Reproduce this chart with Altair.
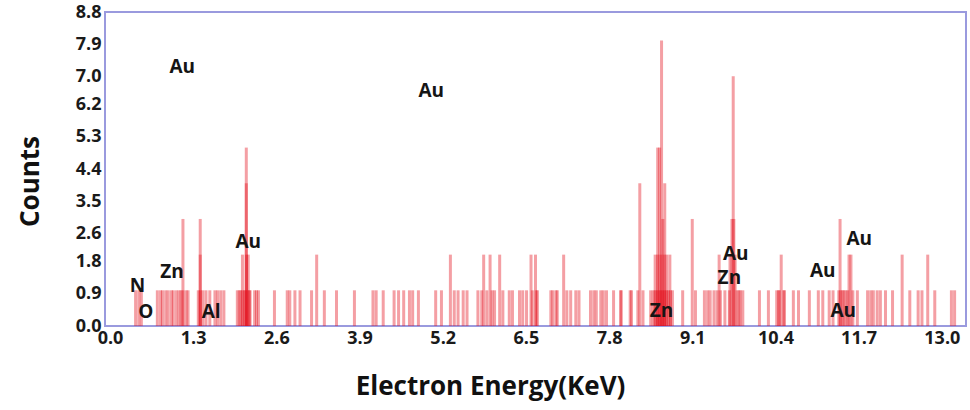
import altair as alt
import pandas as pd

# ---- spectrum lines, grouped by their height in counts (energies in keV) ----
counts_1_kev = [0.40, 0.45, 0.49, 0.74, 0.79, 0.82, 0.87, 0.91, 0.96, 0.99, 1.04, 1.08, 1.11, 1.14,
                1.19, 1.22, 1.38, 1.41, 1.45, 1.50, 1.56, 1.64, 1.68, 1.73, 1.78, 1.99, 2.02, 2.04,
                2.07, 2.10, 2.12, 2.15, 2.18, 2.19, 2.26, 2.29, 2.32, 2.57, 2.77, 2.81, 2.89, 2.97,
                3.15, 3.35, 3.54, 3.82, 4.11, 4.16, 4.27, 4.44, 4.51, 4.59, 4.68, 4.73, 4.82, 5.09,
                5.18, 5.38, 5.44, 5.52, 5.58, 5.75, 5.81, 5.89, 5.97, 6.01, 6.14, 6.24, 6.29, 6.40,
                6.45, 6.51, 6.60, 6.66, 6.68, 6.89, 6.92, 6.97, 6.99, 7.14, 7.20, 7.28, 7.33, 7.51,
                7.56, 7.60, 7.67, 7.71, 7.76, 7.87, 7.98, 7.99, 8.13, 8.15, 8.25, 8.33, 8.45, 8.49,
                8.52, 8.55, 8.58, 8.61, 8.64, 8.67, 8.70, 8.73, 8.76, 8.79, 8.95, 9.15, 9.29, 9.34,
                9.38, 9.44, 9.49, 9.54, 9.61, 9.68, 9.80, 9.83, 9.85, 9.89, 10.15, 10.29, 10.42,
                10.45, 10.46, 10.53, 10.54, 10.68, 10.76, 10.93, 11.07, 11.14, 11.24, 11.30, 11.39,
                11.42, 11.45, 11.47, 11.50, 11.53, 11.61, 11.68, 11.84, 11.89, 11.93, 11.99, 12.04,
                12.12, 12.23, 12.50, 12.63, 12.69, 12.89, 13.15, 13.20]
counts_2_kev = [1.41, 2.07, 2.13, 2.16, 3.23, 5.32, 5.84, 5.94, 6.09, 6.58, 6.65, 7.09, 8.52, 8.56,
                8.61, 8.66, 8.70, 8.75, 9.52, 9.69, 9.77, 10.49, 11.55, 11.58, 12.38, 12.78]
counts_3_kev = [1.14, 1.41, 8.64, 9.10, 9.72, 9.75, 11.41]
counts_4_kev = [2.13, 8.28, 8.67]
counts_5_kev = [2.13, 8.56, 8.59]
counts_7_kev = [9.74]
counts_8_kev = [8.62]

# ---- element labels ----
label_text = ["Au", "Au", "Au", "Zn", "N", "O", "Al", "Zn", "Au", "Zn", "Au", "Au", "Au"]
label_kev = [1.13, 5.02, 2.16, 0.97, 0.43, 0.56, 1.58, 8.62, 9.78, 9.68, 11.14, 11.71, 11.46]
label_count = [7.26, 6.59, 2.35, 1.51, 1.12, 0.39, 0.39, 0.42, 2.02, 1.35, 1.54, 2.44, 0.42]

# ---- axis ticks ----
x_ticks = [0.0, 1.3, 2.6, 3.9, 5.2, 6.5, 7.8, 9.1, 10.4, 11.7, 13.0]
y_ticks = [0.0, 0.9, 1.8, 2.6, 3.5, 4.4, 5.3, 6.2, 7.0, 7.9, 8.8]

rows = []
for height, energies in [(1, counts_1_kev), (2, counts_2_kev), (3, counts_3_kev), (4, counts_4_kev),
                         (5, counts_5_kev), (7, counts_7_kev), (8, counts_8_kev)]:
    for e in energies:
        rows.append({"energy": e, "counts": height})
bars_df = pd.DataFrame(rows)
labels_df = pd.DataFrame({"label": label_text, "energy": label_kev, "counts": label_count})

FONT = "Open Sans"
x_scale = alt.Scale(domain=[0, 13.3], nice=False, zero=False)
y_scale = alt.Scale(domain=[0, 8.8], nice=False)

x_axis = alt.Axis(values=x_ticks, format=".1f", title="Electron Energy(KeV)",
                  titleX=385, titleY=60, titleAlign="center", titleBaseline="middle",
                  labelPadding=3, labelOverlap=False)
y_axis = alt.Axis(values=y_ticks, format=".1f", title="Counts",
                  titleX=-75, titleY=169, titleAngle=270, titleAlign="center",
                  titleBaseline="middle", labelPadding=4, labelOverlap=False)

bars = alt.Chart(bars_df).mark_bar(size=3, color="#e3101c", opacity=0.4).encode(
    x=alt.X("energy:Q", scale=x_scale, axis=x_axis),
    y=alt.Y("counts:Q", scale=y_scale, stack=None, axis=y_axis),
)

labels = alt.Chart(labels_df).mark_text(font=FONT, fontWeight="bold", fontSize=19,
                                         color="#151515").encode(
    x=alt.X("energy:Q", scale=x_scale, axis=x_axis),
    y=alt.Y("counts:Q", scale=y_scale, axis=y_axis),
    text="label:N",
)

chart = alt.layer(bars, labels).properties(
    width=861, height=314,
    padding={"left": 105, "top": 12, "right": 4, "bottom": 84},
    autosize="none",
).configure_view(
    stroke="#9a9ade", strokeWidth=2,
).configure_axis(
    grid=False, ticks=False, domain=False, labelOverlap=False,
    labelFont=FONT, labelFontWeight="bold", labelFontSize=18, labelColor="#1a1a1a",
    titleFont=FONT, titleFontWeight="bold", titleFontSize=26, titleColor="#111111",
)

chart.save("out.html", embed_options={"renderer": "svg", "actions": False})
